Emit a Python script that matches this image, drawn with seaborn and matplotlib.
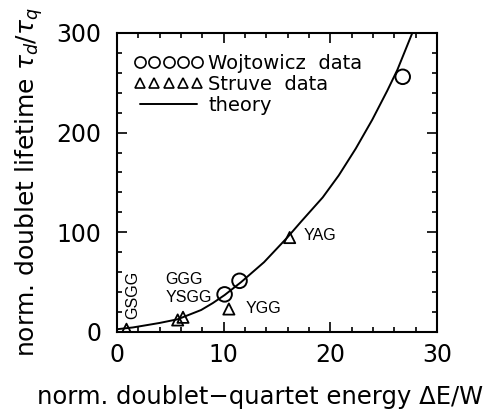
import matplotlib
matplotlib.use("Agg")
import matplotlib.pyplot as plt
from matplotlib.lines import Line2D
from matplotlib.ticker import MultipleLocator
import seaborn as sns
import pandas as pd

# data
woj_x = [10.1, 11.5, 26.8]
woj_y = [37.7, 51.3, 256.0]

struve_x = [0.9, 5.7, 6.2, 10.5, 16.2]
struve_y = [2.7, 12.0, 14.7, 23.0, 94.7]

theory_x = [0.0, 1.5, 2.9, 4.0, 5.7, 7.9, 9.0, 10.1, 11.65, 13.8, 16.0,
            17.3, 19.3, 20.8, 22.4, 23.95, 25.35, 26.3, 27.7]
theory_y = [2.7, 4.5, 7.0, 9.0, 12.7, 22.0, 29.0, 37.0, 50.0, 70.0, 95.0,
            111.0, 135.0, 157.0, 184.0, 213.0, 242.0, 263.0, 300.0]

host_names = ["GSGG", "GGG", "YSGG", "YGG", "YAG"]
host_x = [1.45, 4.5, 4.55, 12.1, 17.5]
host_y = [37.0, 53.0, 34.5, 24.0, 97.0]
host_rot = [90, 0, 0, 0, 0]

theory = pd.DataFrame({"x": theory_x, "y": theory_y})
woj = pd.DataFrame({"x": woj_x, "y": woj_y})
struve = pd.DataFrame({"x": struve_x, "y": struve_y})

sns.set_theme(style="ticks")
plt.rcParams["font.family"] = ["DejaVu Sans"]
for key in ["text.color", "axes.labelcolor", "xtick.color", "ytick.color"]:
    plt.rcParams[key] = "black"

fig = plt.figure(figsize=(4.87, 4.17), dpi=100)
ax = fig.add_axes([0.240, 0.204, 0.657, 0.717])

sns.lineplot(data=theory, x="x", y="y", ax=ax, color="black", lw=1.4,
             sort=False, estimator=None)
sns.scatterplot(data=woj, x="x", y="y", ax=ax, marker="o", s=110,
                facecolor="none", edgecolor="black", linewidth=1.4)
sns.scatterplot(data=struve, x="x", y="y", ax=ax, marker="^", s=65,
                facecolor="none", edgecolor="black", linewidth=1.3)

for name, hx, hy, rot in zip(host_names, host_x, host_y, host_rot):
    ax.text(hx, hy, name, rotation=rot, ha="center" if rot else "left",
            va="center", fontsize=11.5, fontweight="medium",
            family=["Liberation Sans Narrow", "Liberation Sans"])

ax.set_xlim(0, 30)
ax.set_ylim(0, 300)
ax.xaxis.set_major_locator(MultipleLocator(10))
ax.xaxis.set_minor_locator(MultipleLocator(2))
ax.yaxis.set_major_locator(MultipleLocator(100))
ax.yaxis.set_minor_locator(MultipleLocator(20))
ax.tick_params(which="both", direction="in", top=True, right=True,
               color="black", width=1.2)
ax.tick_params(which="major", length=7, labelsize=17)
ax.tick_params(axis="x", which="major", pad=8)
ax.tick_params(axis="y", which="major", pad=11)
ax.tick_params(which="minor", length=3.5)
for sp in ax.spines.values():
    sp.set_linewidth(1.5)
    sp.set_color("black")

ax.set_xlabel("norm. doublet\u2212quartet energy \u0394E/W", fontsize=17.5)
ax.xaxis.set_label_coords(0.447, -0.178)
ax.set_ylabel(r"norm. doublet lifetime $\tau_d/\tau_q$", fontsize=18,
              labelpad=8)

handles = [
    Line2D([], [], ls="none", marker="o", ms=8, mfc="none", mec="black",
           mew=1.2),
    Line2D([], [], ls="none", marker="^", ms=7.5, mfc="none", mec="black",
           mew=1.2),
    Line2D([], [], color="black", lw=1.4),
]
ax.legend(handles, ["Wojtowicz  data", "Struve  data", "theory"],
          loc="upper left", bbox_to_anchor=(0.055, 0.93), numpoints=5,
          handlelength=3.5, handletextpad=0.3, fontsize=14, frameon=False,
          borderaxespad=0.0, labelspacing=0.1, borderpad=0.0)

fig.savefig("out.png", dpi=100)
